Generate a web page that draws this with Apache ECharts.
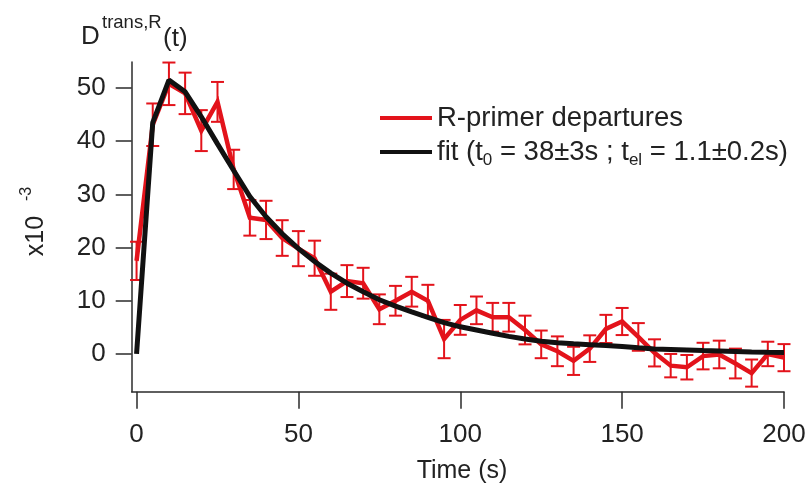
<!DOCTYPE html>
<html>
<head>
<meta charset="utf-8">
<script src="https://cdn.jsdelivr.net/npm/echarts@6/dist/echarts.min.js"></script>
<style>
html,body{margin:0;padding:0;background:#fff;}
#chart{width:809px;height:484px;}
</style>
</head>
<body>
<div id="chart"></div>
<script>
// ---- data ----
const times = [0,5,10,15,20,25,30,35,40,45,50,55,60,65,70,75,80,85,90,95,100,105,110,115,120,125,130,135,140,145,150,155,160,165,170,175,180,185,190,195,200];
const departures = [17.5,43.1,50.8,49.0,42.0,47.4,34.7,25.6,25.2,21.8,19.8,18.0,11.7,13.7,13.3,8.4,10.0,11.7,10.0,2.8,6.4,8.2,6.9,6.9,4.5,1.8,0.5,-1.3,1.0,4.7,6.1,3.2,0.2,-2.2,-2.5,-0.4,-0.1,-1.8,-3.6,0.0,-0.7];
const errors = [3.6,4.0,4.0,3.9,3.85,3.75,3.7,3.35,3.6,3.35,3.3,3.3,3.4,3.0,2.9,2.8,2.8,2.8,3.0,3.6,2.8,2.6,2.7,2.7,2.7,2.6,2.8,2.65,2.5,2.65,2.55,2.6,2.55,2.2,2.3,2.5,2.6,2.8,2.55,2.3,2.55];
const fitVals = [0,43.5,51.5,49.3,44.6,39.5,34.5,29.6,25.8,22.6,19.8,17.4,15.2,13.3,11.7,10.2,9.0,7.9,6.9,5.9,5.1,4.5,3.9,3.3,2.8,2.4,2.1,1.9,1.75,1.6,1.4,1.15,0.95,0.85,0.75,0.65,0.56,0.47,0.38,0.31,0.25];
const xTicks = [0,50,100,150,200];
const yTicks = [0,10,20,30,40,50];
const seriesNames = ['R-primer departures','fit'];
const fitLabel = 'fit (t{sub|0} = 38±3s ; t{sub|el} = 1.1±0.2s)';

const RED = '#e3131b';
const AXIS = '#2b2b2b';
const FONT = '"Liberation Sans", Arial, Helvetica, sans-serif';

const chart = echarts.init(document.getElementById('chart'), null, {renderer:'canvas'});

const option = {
  animation: false,
  backgroundColor: '#fff',
  grid: {left: 131.7, right: 25, top: 62, bottom: 92.3, containLabel: false},
  legend: {
    data: [{name: seriesNames[0], icon: 'rect'}, {name: seriesNames[1], icon: 'rect'}],
    orient: 'vertical',
    left: 380, top: 101,
    padding: 0,
    itemGap: 0,
    itemWidth: 52, itemHeight: 4,
    selectedMode: false,
    formatter: function(name){ return name === 'fit' ? fitLabel : name; },
    textStyle: {
      fontFamily: FONT, fontSize: 27.5, color: '#222', lineHeight: 34,
      rich: { sub: {fontFamily: FONT, fontSize: 17, color: '#222', verticalAlign: 'bottom', lineHeight: 17, padding:[0,0,0,0]} }
    }
  },
  xAxis: {
    type: 'value', min: -1.5, max: 200,
    axisLine: {show: true, onZero: false, lineStyle: {color: AXIS, width: 1.5}},
    axisTick: {show: true, customValues: xTicks, length: 17, lineStyle: {color: AXIS, width: 1.5}},
    axisLabel: {customValues: xTicks, fontFamily: FONT, fontSize: 26, color: '#222', margin: 30},
    splitLine: {show: false}
  },
  yAxis: {
    type: 'value', min: -7.1, max: 54.9,
    axisLine: {show: true, onZero: false, lineStyle: {color: AXIS, width: 1.5}},
    axisTick: {show: true, customValues: yTicks, length: 16, lineStyle: {color: AXIS, width: 1.5}},
    axisLabel: {customValues: yTicks, fontFamily: FONT, fontSize: 26, color: '#222', margin: 26},
    splitLine: {show: false}
  },
  graphic: [
    {type: 'text', x: 81, y: 37, style: {text: 'D', font: '26px ' + FONT, fill: '#222', textAlign: 'left', textVerticalAlign: 'middle'}},
    {type: 'text', x: 102, y: 23, style: {text: 'trans,R', font: '18.5px ' + FONT, fill: '#222', textAlign: 'left', textVerticalAlign: 'middle'}},
    {type: 'text', x: 163, y: 39, style: {text: '(t)', font: '26px ' + FONT, fill: '#222', textAlign: 'left', textVerticalAlign: 'middle'}},
    {type: 'text', x: 36, y: 236, rotation: Math.PI/2, style: {text: 'x10', font: '25px ' + FONT, fill: '#222', textAlign: 'center', textVerticalAlign: 'middle'}},
    {type: 'text', x: 27, y: 194, rotation: Math.PI/2, style: {text: '-3', font: '16px ' + FONT, fill: '#222', textAlign: 'center', textVerticalAlign: 'middle'}},
    {type: 'text', x: 462, y: 471, style: {text: 'Time (s)', font: '25px ' + FONT, fill: '#222', textAlign: 'center', textVerticalAlign: 'middle'}}
  ],
  series: [
    {
      name: seriesNames[0], type: 'line', color: RED,
      data: times.map((t,i) => [t, departures[i]]),
      showSymbol: false, symbol: 'none',
      lineStyle: {color: RED, width: 4.5, join: 'miter'},
      z: 2
    },
    {
      name: 'errbars', type: 'custom',
      data: times.map((t,i) => [t, departures[i], errors[i]]),
      encode: {x: 0, y: 1},
      z: 3,
      renderItem: function(params, api){
        const x = api.value(0), y = api.value(1), e = api.value(2);
        const lo = api.coord([x, y - e]);
        const hi = api.coord([x, y + e]);
        const w = 6.5;
        const st = {stroke: RED, lineWidth: 2};
        return {type: 'group', children: [
          {type: 'line', shape: {x1: lo[0], y1: lo[1], x2: hi[0], y2: hi[1]}, style: st},
          {type: 'line', shape: {x1: lo[0]-w, y1: lo[1], x2: lo[0]+w, y2: lo[1]}, style: st},
          {type: 'line', shape: {x1: hi[0]-w, y1: hi[1], x2: hi[0]+w, y2: hi[1]}, style: st}
        ]};
      }
    },
    {
      name: seriesNames[1], type: 'line', color: '#111',
      data: times.map((t,i) => [t, fitVals[i]]),
      showSymbol: false, symbol: 'none',
      lineStyle: {color: '#111', width: 5},
      z: 4
    }
  ]
};
chart.setOption(option);
</script>
</body>
</html>
